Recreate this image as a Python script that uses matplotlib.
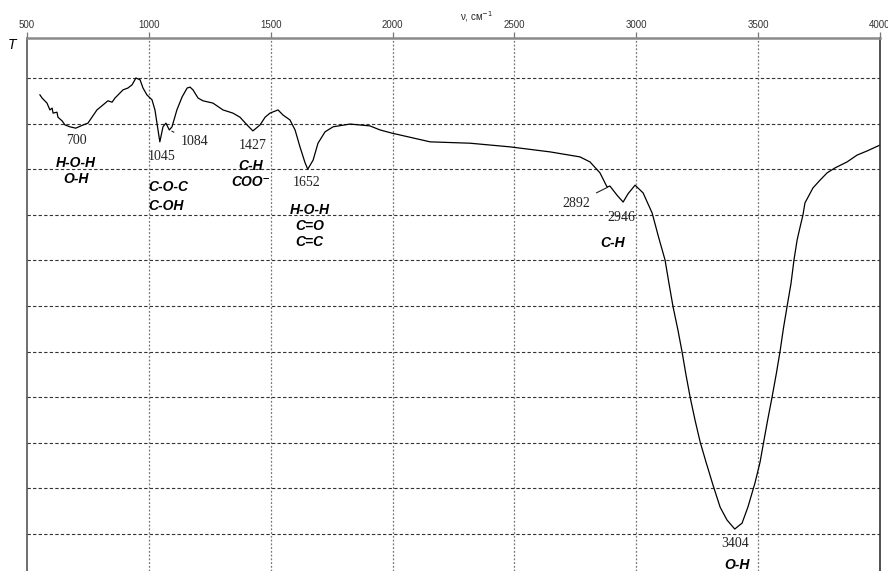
import numpy as np
import matplotlib
matplotlib.use("Agg")
import matplotlib.pyplot as plt

# IR spectrum (wavenumber, cm-1 ; transmittance, arb. units)
wavenumber = [553, 562, 582, 594, 603, 607, 623, 627, 644, 656, 676, 700,
              730, 750, 787, 812, 832, 849, 861, 894, 914, 931, 947, 964,
              976, 992, 1013, 1025, 1045, 1058, 1070, 1084, 1095, 1115, 1136,
              1157, 1169, 1181, 1202, 1222, 1263, 1304, 1345, 1374, 1403, 1427,
              1456, 1477, 1497, 1530, 1550, 1579, 1600, 1620, 1641, 1652, 1674,
              1694, 1723, 1756, 1825, 1907, 1949, 1998, 2154, 2318, 2482, 2646,
              2769, 2810, 2851, 2880, 2892, 2921, 2946, 2966, 2995, 3028, 3065,
              3092, 3118, 3134, 3151, 3171, 3188, 3204, 3221, 3241, 3262, 3286,
              3315, 3344, 3372, 3404, 3434, 3458, 3487, 3508, 3522, 3539, 3557,
              3575, 3590, 3604, 3619, 3635, 3647, 3660, 3672, 3684, 3692, 3705,
              3725, 3754, 3783, 3816, 3865, 3906, 3947, 4000]
transmittance = [9.63, 9.56, 9.45, 9.30, 9.34, 9.23, 9.25, 9.14, 9.06, 8.97,
                 8.93, 8.90, 8.97, 9.01, 9.30, 9.41, 9.50, 9.47, 9.56, 9.74,
                 9.78, 9.85, 10.00, 9.96, 9.78, 9.63, 9.52, 9.30, 8.60, 8.93,
                 9.01, 8.86, 8.93, 9.30, 9.58, 9.78, 9.80, 9.74, 9.56, 9.50,
                 9.45, 9.30, 9.23, 9.14, 8.97, 8.84, 8.97, 9.14, 9.23, 9.30,
                 9.19, 9.08, 8.86, 8.49, 8.14, 8.00, 8.20, 8.57, 8.82, 8.93,
                 8.99, 8.95, 8.86, 8.79, 8.60, 8.57, 8.49, 8.38, 8.27, 8.16,
                 7.92, 7.61, 7.63, 7.43, 7.28, 7.46, 7.65, 7.48, 7.04, 6.50,
                 6.01, 5.50, 4.98, 4.47, 3.99, 3.49, 3.00, 2.50, 2.02, 1.58,
                 1.07, 0.59, 0.31, 0.11, 0.24, 0.59, 1.12, 1.58, 2.00, 2.50,
                 3.00, 3.53, 4.01, 4.52, 5.00, 5.50, 6.01, 6.45, 6.73, 7.00,
                 7.26, 7.39, 7.59, 7.76, 7.92, 8.03, 8.16, 8.31, 8.40, 8.53]

# peak numbers and the offset (pixels) of the number from the peak
peaks = [700, 1045, 1084, 1427, 1652, 2892, 2946, 3404]
peak_offsets = [(1, -12), (2, -15), (25, -12), (0, -15), (-1, -13),
                (-34, -17), (-2, -15), (0, -14)]
leader_peaks = [1084, 2892]

# bond assignments: (peak, text, offset, alignment, line spacing)
bonds = [(700, "H-O-H\nO-H", (0, -43), "center", 1.2),
         (1045, "C-O-C\nC-OH", (-11, -55), "left", 1.45),
         (1427, "C-H\nCOO\u207b", (-2, -43), "center", 1.2),
         (1652, "H-O-H\nC=O\nC=C", (2, -57), "center", 1.2),
         (2946, "C-H", (-10, -41), "center", 1.2),
         (3404, "O-H", (2, -36), "center", 1.2)]

x_ticks = [500, 1000, 1500, 2000, 2500, 3000, 3500, 4000]
y_grid = list(range(0, 11))


def t_at(v):
    return transmittance[wavenumber.index(v)]


fig = plt.figure(figsize=(8.88, 5.71), dpi=100)
ax = fig.add_axes([27 / 888, 0, 853 / 888, 1 - 38 / 571])

ax.plot(wavenumber, transmittance, color="black", lw=0.9)

ax.set_xlim(500, 4000)
ax.set_ylim(-0.81, 10.877)

# grid: dashed dark horizontals, dotted gray verticals
for g in y_grid:
    ax.axhline(g, color="#333333", lw=0.8, ls=(0, (3, 2)), zorder=0)
for v in x_ticks[1:-1]:
    ax.axvline(v, color="#777777", lw=0.9, ls=(0, (1.5, 1.5)), zorder=0)

ax.xaxis.tick_top()
ax.set_xticks(x_ticks)
ax.set_xticklabels([str(v) for v in x_ticks], fontsize=7, color="#333333",
                   family="Liberation Sans")
ax.tick_params(axis="x", direction="out", length=4, width=0.9,
               color="#777777", pad=1.5)
ax.set_yticks([])

ax.spines["bottom"].set_visible(False)
ax.spines["top"].set_color("#8a8a8a")
ax.spines["top"].set_linewidth(1.8)
ax.spines["left"].set_color("#555555")
ax.spines["left"].set_linewidth(1.2)
ax.spines["right"].set_color("#333333")
ax.spines["right"].set_linewidth(1.2)

num_font = dict(family="Liberation Serif", fontsize=10, color="#222222")
bond_font = dict(family=["Liberation Sans", "DejaVu Sans"], fontsize=10,
                 fontweight="bold", fontstyle="italic", color="black")

for p, off in zip(peaks, peak_offsets):
    arrow = None
    if p in leader_peaks:
        arrow = dict(arrowstyle="-", color="#222222", lw=0.8,
                     shrinkA=3, shrinkB=2)
    ax.annotate(str(p), xy=(p, t_at(p)), xytext=off,
                textcoords="offset pixels", ha="center", va="center",
                arrowprops=arrow, annotation_clip=False, **num_font)

for p, txt, off, ha, ls in bonds:
    ax.annotate(txt, xy=(p, t_at(p)), xytext=off, textcoords="offset pixels",
                ha=ha, va="center", multialignment=ha, linespacing=ls,
                annotation_clip=False, **bond_font)

fig.text(12 / 888, 1 - 45 / 571, "T", fontsize=10, fontstyle="italic",
         family="Liberation Sans", ha="center", va="center")
fig.text(460 / 888, 1 - 17 / 571, "ν, см$^{-1}$", fontsize=7,
         family="Liberation Sans", color="#222222", ha="left", va="center")

fig.savefig("out.png", dpi=100)
